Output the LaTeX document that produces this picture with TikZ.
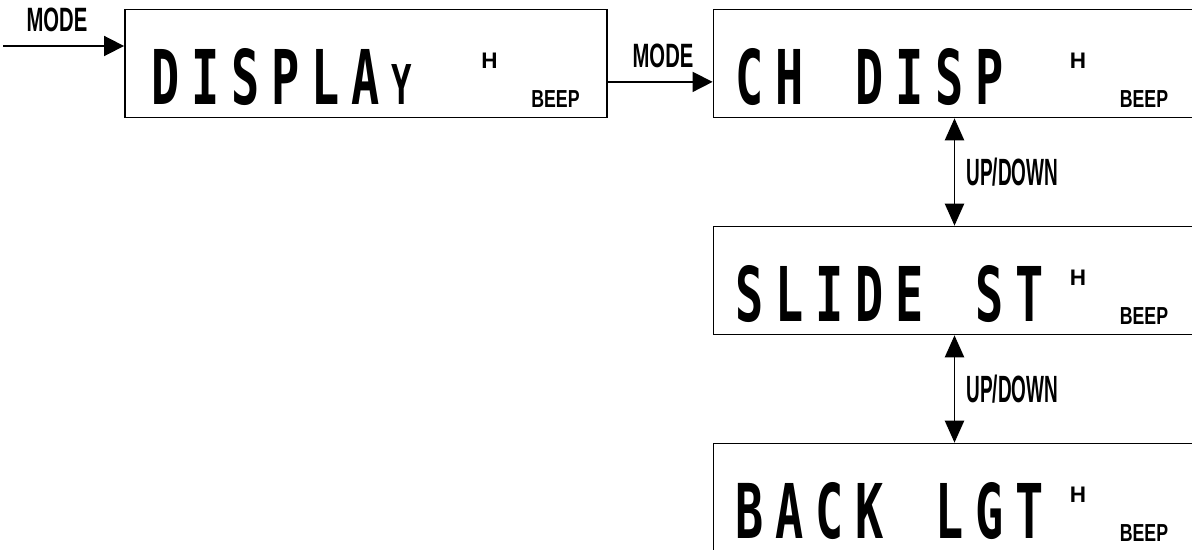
\documentclass[tikz,border=0pt]{standalone}
\usepackage{fontspec}
\setmainfont{Liberation Sans}
\newfontfamily\lcdfont{DejaVu Sans Mono}
\usetikzlibrary{arrows.meta,calc}

% one character cell of the display
\makeatletter
\newcommand\lcdtext[1]{\@tfor\lcd@c:=#1\do{\makebox[28.45pt][l]{\scalebox{0.62}[1]{\lcd@c}}}}
\makeatother
\newcommand\lcdsmall{\fontsize{39}{39}\selectfont}

\tikzset{
  lcdbox/.style={draw,line width=1.2pt,minimum width=12.05cm,minimum height=2.7cm,inner sep=0pt},
  lcd/.style={anchor=base west,inner sep=0pt,text depth=0pt,font=\lcdfont\bfseries\fontsize{53.7}{54}\selectfont},
  hmark/.style={anchor=base west,inner sep=0pt,font=\bfseries\fontsize{16}{16}\selectfont},
  beep/.style={anchor=base west,inner sep=0pt,font=\bfseries\fontsize{17.5}{18}\selectfont},
  keylbl/.style={inner sep=0pt,font=\bfseries\fontsize{24}{24}\selectfont},
  arr/.style={line width=1.2pt,-{Triangle[length=0.5cm,width=0.5cm]}},
  dblarr/.style={line width=1.2pt,{Triangle[length=0.55cm,width=0.48cm]}-{Triangle[length=0.55cm,width=0.48cm]}},
}

\begin{document}
\begin{tikzpicture}[x=0.025cm,y=-0.025cm]
\useasboundingbox (0,0) rectangle (1192,550);
\clip (0,0) rectangle (1192,550);

% display boxes
\node[lcdbox] (disp) at (366,63.5) {};
\node[lcdbox] (chdisp) at (954.5,63.5) {};
\node[lcdbox] (slide) at (954.5,280.5) {};
\node[lcdbox] (backl) at (954.5,497.5) {};

% display contents
\node[lcd] (disptxt) at ($(disp.north west)+(27,96)$) {\lcdtext{DISPLA{\lcdsmall Y}}};
\node[lcd] (chtxt) at ($(chdisp.north west)+(23,96)$) {\lcdtext{CH~DISP}};
\node[lcd] (slidetxt) at ($(slide.north west)+(23,96)$) {\lcdtext{SLIDE~ST}};
\node[lcd] (backtxt) at ($(backl.north west)+(23,96)$) {\lcdtext{BACK~LGT}};

\foreach \b in {disp,chdisp,slide,backl}{
  \node[hmark] (h-\b) at ($(\b.north west)+(357,60)$) {H};
  \node[beep] (beep-\b) at ($(\b.north west)+(407,99)$) {\scalebox{0.72}[1]{BEEP}};
}

% keys
\coordinate (in) at (3,46);
\node[keylbl] (mode1) at (57,20) {\scalebox{0.6}[1]{MODE}};
\draw[arr] (in) -- (in -| disp.west);

\node[keylbl] (mode2) at (663,56) {\scalebox{0.6}[1]{MODE}};
\draw[arr] ([yshift=-0.46cm]disp.east) -- ([yshift=-0.46cm]chdisp.west);

\draw[dblarr] (chdisp.south) -- (slide.north) node[midway,right=0.28cm,keylbl,font=\bfseries\fontsize{27}{27}\selectfont] (ud1) {\scalebox{0.5}[1]{UP/DOWN}};
\draw[dblarr] (slide.south) -- (backl.north) node[midway,right=0.28cm,keylbl,font=\bfseries\fontsize{27}{27}\selectfont] (ud2) {\scalebox{0.5}[1]{UP/DOWN}};
\end{tikzpicture}
\end{document}
